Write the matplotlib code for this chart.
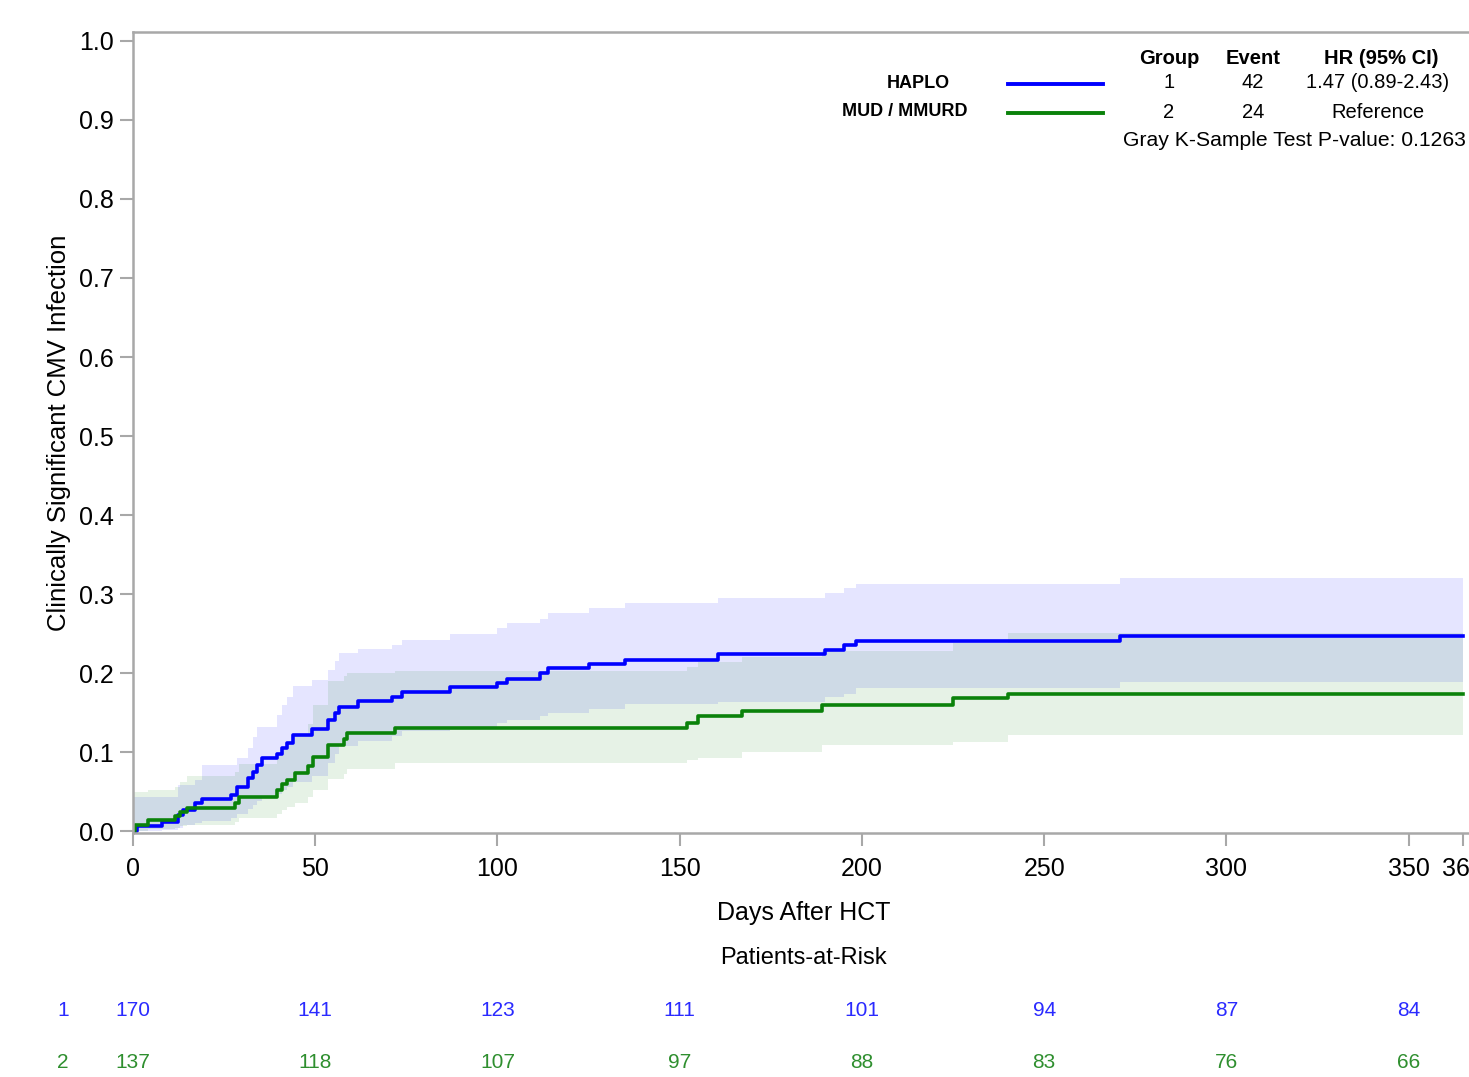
import numpy as np
import matplotlib
matplotlib.use("Agg")
import matplotlib.pyplot as plt
from matplotlib.lines import Line2D
from matplotlib import transforms

# Group 1: HAPLO -- step times (days), cumulative incidence, 95% band
haplo_days = [0, 1, 8, 12.4, 13.8, 17, 18.8, 27, 28.4, 31.6, 33, 34, 35.3, 39.4,
              40.8, 42.2, 44, 49, 53.6, 55.4, 56.4, 61.8, 71, 73.7, 87, 99.8,
              102.5, 111.7, 114, 125, 135, 160.6, 190, 195, 198.5, 270.8]
haplo_cif = [0, .006, .011, .020, .027, .035, .040, .046, .056, .067, .075, .084,
             .092, .098, .105, .111, .122, .129, .140, .149, .157, .164, .170,
             .176, .182, .187, .193, .200, .206, .211, .217, .224, .229, .235,
             .241, .247]
haplo_lower = [0, 0, .001, .004, .007, .010, .013, .016, .022, .028, .033, .038,
               .043, .047, .052, .056, .062, .070, .086, .097, .108, .114, .120,
               .127, .131, .137, .140, .146, .150, .155, .161, .163, .170, .174,
               .181, .189]
haplo_upper = [.043, .043, .043, .058, .058, .065, .083, .083, .092, .105, .119,
               .132, .132, .147, .159, .170, .184, .191, .204, .215, .225, .230,
               .236, .242, .249, .257, .263, .269, .276, .282, .288, .295, .301,
               .307, .313, .320]

# Group 2: MUD / MMURD
mud_days = [0, 0.5, 4.2, 11.5, 13, 14.7, 28, 29, 39.5, 40.8, 42.2, 44.5, 48, 49.5,
            53.6, 57.8, 58.7, 72, 152, 155, 167, 189, 225, 240]
mud_cif = [0, .008, .014, .019, .0245, .029, .036, .043, .052, .060, .065, .073,
           .082, .094, .109, .117, .124, .130, .137, .146, .152, .160, .168, .174]
mud_lower = [0, 0, .002, .004, .006, .008, .012, .016, .021, .026, .030, .036,
             .043, .052, .066, .072, .078, .0857, .090, .092, .100, .109, .113,
             .1215]
mud_upper = [.050, .050, .052, .056, .062, .070, .075, .085, .095, .105, .112,
             .122, .135, .160, .190, .196, .200, .203, .208, .214, .220, .228,
             .238, .251]

follow_up_end = 365

risk_days = [0, 50, 100, 150, 200, 250, 300, 350]
haplo_at_risk = [170, 141, 123, 111, 101, 94, 87, 84]
mud_at_risk = [137, 118, 107, 97, 88, 83, 76, 66]

x_ticks = [0, 50, 100, 150, 200, 250, 300, 350, 365]
y_ticks = [0.0, 0.1, 0.2, 0.3, 0.4, 0.5, 0.6, 0.7, 0.8, 0.9, 1.0]

legend_rows = [("HAPLO", "1", "42", "1.47 (0.89-2.43)"),
               ("MUD / MMURD", "2", "24", "Reference")]

BLUE = '#0000ff'
GREEN = '#0a820a'
RISK_BLUE = '#2a2aff'
RISK_GREEN = '#2f8f2f'
FRAME = '#a8a8a8'

W, H = 1469, 1077


def fx(px):
    return px / W


def fy(py):
    return 1 - py / H


def extend(days, vals):
    # carry the last value out to the end of follow-up
    return np.append(days, follow_up_end), np.append(vals, vals[-1])


def main():
    plt.rcParams['font.family'] = ['Liberation Sans Narrow', 'Liberation Sans', 'DejaVu Sans']

    fig = plt.figure(figsize=(W / 100, H / 100), dpi=100)
    ax = fig.add_axes([fx(133), fy(832.6), fx(1341.2), 800.3 / H])

    # confidence bands first, then the curves on top
    for days, lo, hi, col in [(haplo_days, haplo_lower, haplo_upper, BLUE),
                              (mud_days, mud_lower, mud_upper, GREEN)]:
        t, l = extend(days, lo)
        _, h = extend(days, hi)
        ax.fill_between(t, l, h, step='post', color=col, alpha=0.1, linewidth=0)

    for days, cif, col in [(haplo_days, haplo_cif, BLUE), (mud_days, mud_cif, GREEN)]:
        t, c = extend(days, cif)
        ax.step(t, c, where='post', color=col, linewidth=2.6)

    ax.set_xlim(0, 368)
    ax.set_ylim(-0.002, 1.011)
    ax.set_xticks(x_ticks)
    ax.set_yticks(y_ticks)
    ax.set_yticklabels([f"{v:.1f}" for v in y_ticks])

    for side in ['top', 'left', 'bottom', 'right']:
        ax.spines[side].set_color(FRAME)
        ax.spines[side].set_linewidth(1.8)
    ax.tick_params(direction='out', length=9.5, width=1.5, color=FRAME, labelsize=18)
    ax.tick_params(axis='x', pad=8)
    ax.tick_params(axis='y', pad=4)

    ax.set_xlabel('Days After HCT', fontsize=18)
    ax.xaxis.set_label_coords(0.5, -0.085)
    ax.set_ylabel('Clinically Significant CMV Infection', fontsize=18.5)
    ax.yaxis.set_label_coords(-0.046, 0.5)

    # patients-at-risk table under the axis
    trans = transforms.blended_transform_factory(ax.transData, fig.transFigure)
    ax.text(0.5, fy(958), 'Patients-at-Risk', fontsize=17, ha='center', va='center',
            transform=transforms.blended_transform_factory(ax.transAxes, fig.transFigure))
    for row_y, label, counts, col in [(1010, '1', haplo_at_risk, RISK_BLUE),
                                      (1062, '2', mud_at_risk, RISK_GREEN)]:
        fig.text(fx(63), fy(row_y), label, fontsize=15, color=col, ha='center', va='center')
        for d, n in zip(risk_days, counts):
            ax.text(d, fy(row_y), str(n), fontsize=15, color=col, ha='center',
                    va='center', transform=trans, clip_on=False)

    # legend block with HR table
    fig.text(fx(1169), fy(59), 'Group', fontsize=14.5, fontweight='bold', ha='center', va='center')
    fig.text(fx(1253), fy(59), 'Event', fontsize=14.5, fontweight='bold', ha='center', va='center')
    fig.text(fx(1381), fy(59), 'HR (95% CI)', fontsize=14.5, fontweight='bold', ha='center', va='center')
    name_x = [918, 905]
    for i, (name, grp, ev, hr) in enumerate(legend_rows):
        yy = [83, 112][i]
        col = [BLUE, GREEN][i]
        fig.text(fx(name_x[i]), fy(yy), name, fontsize=13, fontweight='bold',
                 ha='center', va='center')
        fig.add_artist(Line2D([fx(1008), fx(1103)], [fy(yy + 1), fy(yy + 1)],
                              color=col, linewidth=2.8))
        fig.text(fx(1169), fy(yy), grp, fontsize=14.5, ha='center', va='center')
        fig.text(fx(1253), fy(yy), ev, fontsize=14.5, ha='center', va='center')
        fig.text(fx(1378), fy(yy), hr, fontsize=14.5, ha='center', va='center')
    fig.text(fx(1294), fy(140), 'Gray K-Sample Test P-value: 0.1263', fontsize=15.2,
             ha='center', va='center')

    fig.savefig('out.png', dpi=100)


if __name__ == '__main__':
    main()
